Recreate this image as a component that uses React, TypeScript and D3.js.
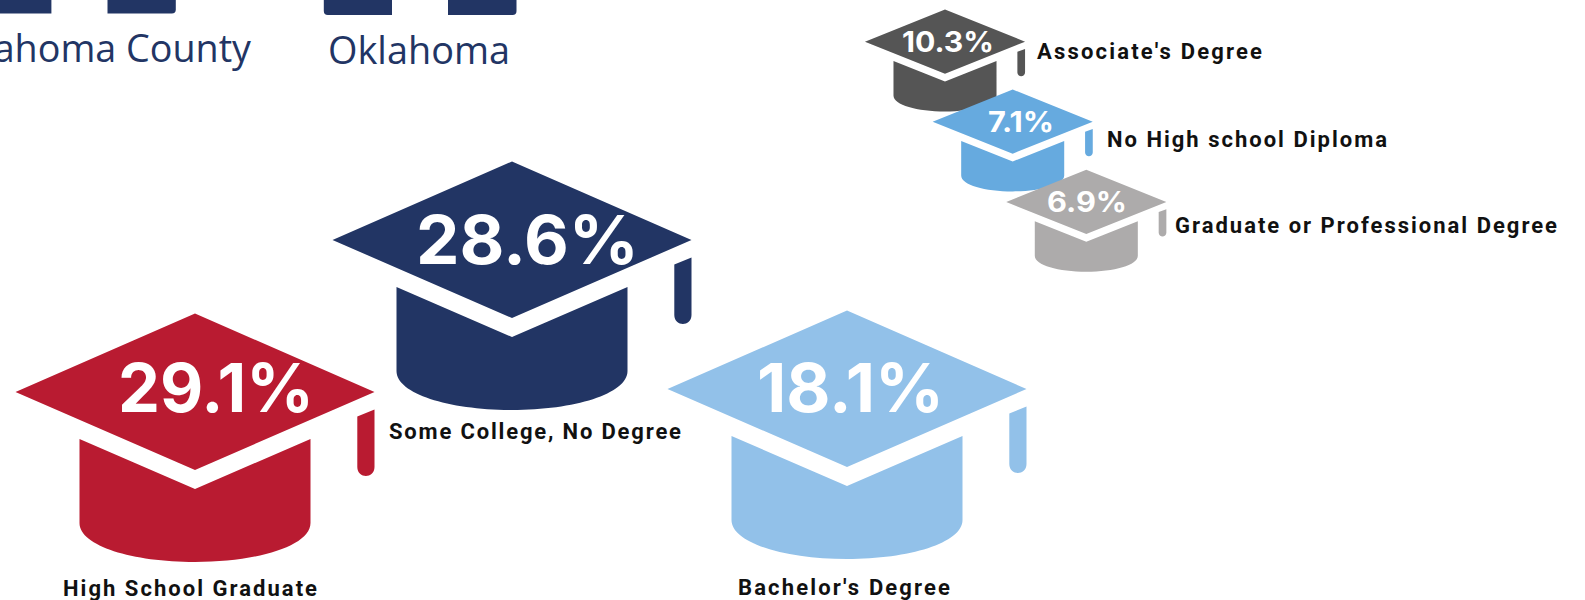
import React from "react";
import * as d3 from "d3";

// ---- data ----
const categories = [
  "Associate's Degree",
  "No High school Diploma",
  "Graduate or Professional Degree",
  "Some College, No Degree",
  "High School Graduate",
  "Bachelor's Degree",
];
const values = [10.3, 7.1, 6.9, 28.6, 29.1, 18.1];
const legendNames = ["Oklahoma County", "Oklahoma"];

// ---- styling and layout (kept apart from the data) ----
const colors = ["#555555", "#66aadf", "#adabab", "#223564", "#b91b31", "#92c1e9"];
const hatCx = [945, 1012.7, 1086.3, 512, 195, 847];
const hatCy = [41.7, 121.7, 202, 240, 392, 389];
const hatScaleX = [0.446, 0.446, 0.446, 1, 1, 1];
const hatScaleY = [0.41, 0.41, 0.41, 1, 1, 1];
const pctLeft = [902, 988, 1047, 416, 118, 757];
const pctRight = [994, 1054, 1127, 639, 314, 944];
const pctBase = [52.3, 131.7, 211.7, 264, 411.7, 412];
const pctSize = [28, 28, 28, 67, 67, 67];
const labelLeft = [1037, 1107, 1175, 389, 63, 738];
const labelRight = [1262, 1387, 1557, 681, 317, 950];
const labelBase = [58.5, 147, 233, 439, 595.5, 594.5];
const labelSize = [22, 22, 22, 22, 22, 22];

const legendX = [-65, 328];
const legendRight = [251, 510];
const legendBase = [62, 63.5];
const legendSize = 38;
// the clipped bottoms of the bars above the crop
const stubStart = [-20, 107.5, 323.8, 448];
const stubEnd = [51.4, 175.8, 392, 516.5];
const stubBottom = [13.5, 13.5, 14.9, 14.9];
const stubRoundLeft = [false, false, true, false];
const stubRoundRight = [false, true, false, true];

const NAVY = "#223564";

// Builds the three parts of a cap through a pair of d3 scales (unit space = large cap, px from its centre).
function hatPath(x: d3.ScaleLinear<number, number>, y: d3.ScaleLinear<number, number>) {
  const p = d3.path();
  // board
  p.moveTo(x(0), y(-78.5));
  p.lineTo(x(179.5), y(0));
  p.lineTo(x(0), y(78));
  p.lineTo(x(-179.5), y(0));
  p.closePath();
  // crown
  p.moveTo(x(-115.5), y(47));
  p.lineTo(x(0), y(97));
  p.lineTo(x(115.5), y(47));
  p.lineTo(x(115.5), y(131));
  p.bezierCurveTo(x(115.5), y(154), x(62), y(170), x(0), y(170));
  p.bezierCurveTo(x(-62), y(170), x(-115.5), y(154), x(-115.5), y(131));
  p.closePath();
  // tassel
  p.moveTo(x(162.3), y(24.5));
  p.lineTo(x(179.5), y(17.5));
  p.lineTo(x(179.5), y(75));
  p.bezierCurveTo(x(179.5), y(81), x(175), y(84), x(170.9), y(84));
  p.bezierCurveTo(x(166.8), y(84), x(162.3), y(81), x(162.3), y(75));
  p.closePath();
  return p.toString();
}

function stubPath(i: number) {
  const r = 4;
  const [a, b, h] = [stubStart[i], stubEnd[i], stubBottom[i]];
  const p = d3.path();
  p.moveTo(a, -5);
  p.lineTo(b, -5);
  if (stubRoundRight[i]) {
    p.lineTo(b, h - r);
    p.quadraticCurveTo(b, h, b - r, h);
  } else p.lineTo(b, h);
  if (stubRoundLeft[i]) {
    p.lineTo(a + r, h);
    p.quadraticCurveTo(a, h, a, h - r);
  } else p.lineTo(a, h);
  p.closePath();
  return p.toString();
}

const pctFont = "Inter, 'Open Sans', sans-serif";
const labelFont = "Roboto, 'Open Sans', sans-serif";
const format = d3.format(".1f");

export default function App() {
  return (
    <svg
      width={1585}
      height={600}
      viewBox="0 0 1585 600"
      style={{ position: "absolute", left: 0, top: 0, display: "block" }}
    >
      <rect width={1585} height={600} fill="#ffffff" />
      {stubStart.map((_, i) => (
        <path key={i} d={stubPath(i)} fill={NAVY} />
      ))}
      {legendNames.map((name, i) => (
        <text
          key={name}
          x={legendX[i]}
          y={legendBase[i]}
          fontFamily="'Open Sans', sans-serif"
          fontSize={legendSize}
          fill={NAVY}
          textLength={legendRight[i] - legendX[i]}
          lengthAdjust="spacingAndGlyphs"
        >
          {name}
        </text>
      ))}
      {categories.map((cat, i) => {
        const x = d3
          .scaleLinear()
          .domain([0, 1])
          .range([hatCx[i], hatCx[i] + hatScaleX[i]]);
        const y = d3
          .scaleLinear()
          .domain([0, 1])
          .range([hatCy[i], hatCy[i] + hatScaleY[i]]);
        return (
          <g key={cat}>
            <path d={hatPath(x, y)} fill={colors[i]} />
            <text
              x={pctLeft[i]}
              y={pctBase[i]}
              fontFamily={pctFont}
              fontWeight={700}
              fontSize={pctSize[i]}
              fill="#ffffff"
              textLength={pctRight[i] - pctLeft[i]}
              lengthAdjust="spacingAndGlyphs"
            >
              {format(values[i])}%
            </text>
            <text
              x={labelLeft[i]}
              y={labelBase[i]}
              fontFamily={labelFont}
              fontWeight={700}
              fontSize={labelSize[i]}
              fill="#111111"
              textLength={labelRight[i] - labelLeft[i]}
              lengthAdjust="spacing"
            >
              {cat}
            </text>
          </g>
        );
      })}
    </svg>
  );
}
